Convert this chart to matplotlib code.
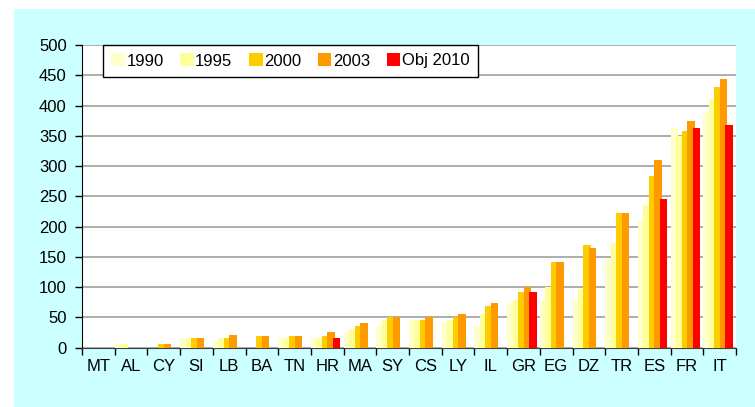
import numpy as np
import matplotlib
matplotlib.use("Agg")
import matplotlib.pyplot as plt
from matplotlib.patches import Rectangle

plt.rcParams['font.family'] = ['Liberation Sans', 'DejaVu Sans']

countries = ['MT', 'AL', 'CY', 'SI', 'LB', 'BA', 'TN', 'HR', 'MA', 'SY',
             'CS', 'LY', 'IL', 'GR', 'EG', 'DZ', 'TR', 'ES', 'FR', 'IT']

v1990 = [0, 5, 0, 16, 10, 0, 16, 16, 25, 36, 45, 42, 36, 73, 78, 78, 146, 209, 362, 388]
v1995 = [0, 5, 0, 16, 16, 0, 16, 16, 30, 45, 45, 46, 55, 78, 100, 96, 173, 236, 350, 411]
v2000 = [0, 0, 5, 16, 16, 19, 19, 19, 36, 50, 45, 50, 68, 91, 141, 169, 222, 283, 358, 430]
v2003 = [0, 0, 5, 16, 20, 19, 19, 25, 41, 50, 50, 55, 73, 100, 141, 164, 222, 310, 374, 443]
v2010 = [0, 0, 0, 0, 0, 0, 0, 16, 0, 0, 0, 0, 0, 91, 0, 0, 0, 245, 362, 367]

series = [('1990', v1990, '#FFFFCC'),
          ('1995', v1995, '#FFFF99'),
          ('2000', v2000, '#FFCC00'),
          ('2003', v2003, '#FF9900'),
          ('Obj 2010', v2010, '#FF0000')]

W, H = 755, 407
fig = plt.figure(figsize=(W / 100, H / 100), dpi=100)
fig.patch.set_facecolor('white')
fig.patches.append(Rectangle((14 / W, 0), 1 - 14 / W, 1 - 9 / H,
                             transform=fig.transFigure, facecolor='#CCFFFF',
                             edgecolor='none', zorder=-10))

ax = fig.add_axes([82 / W, (H - 347.5) / H, (736 - 82) / W, (347.5 - 45) / H])
ax.set_facecolor('white')

x = np.arange(len(countries))
width = 0.23
step = 0.1675
for k, (name, vals, col) in enumerate(series):
    ax.bar(x + k * step, vals, width=width, align='edge', color=col,
           label=name, zorder=3 + k, linewidth=0)

ax.set_xlim(0, len(countries))
ax.set_ylim(0, 500)
ax.set_yticks(np.arange(0, 501, 50))
ax.yaxis.grid(True, color='#A0A0A0', linewidth=1.2, zorder=0)
ax.set_axisbelow(True)

ax.set_xticks(np.arange(0, len(countries) + 1), minor=False)
ax.set_xticklabels([])
ax.set_xticks(x + 0.5, minor=True)
ax.set_xticklabels(countries, minor=True)
ax.tick_params(axis='x', which='major', direction='out', length=5, width=1, color='black')
ax.tick_params(axis='x', which='minor', length=0, pad=8, labelsize=12)
ax.tick_params(axis='y', direction='out', length=5, width=1, color='black',
               pad=6, labelsize=12)

for s in ['top', 'right']:
    ax.spines[s].set_visible(False)
ax.spines['left'].set_color('black')
ax.spines['bottom'].set_color('#404040')

leg = fig.legend(loc='upper left', bbox_to_anchor=(103 / W, 1 - 45 / H),
                 ncol=5, frameon=True, fancybox=False, edgecolor='black',
                 framealpha=1, fontsize=12, handlelength=0.8, handleheight=0.8,
                 handletextpad=0.1, columnspacing=1.0, borderpad=0.5,
                 borderaxespad=0)
leg.get_frame().set_linewidth(1)

fig.savefig('out.png', dpi=100)
